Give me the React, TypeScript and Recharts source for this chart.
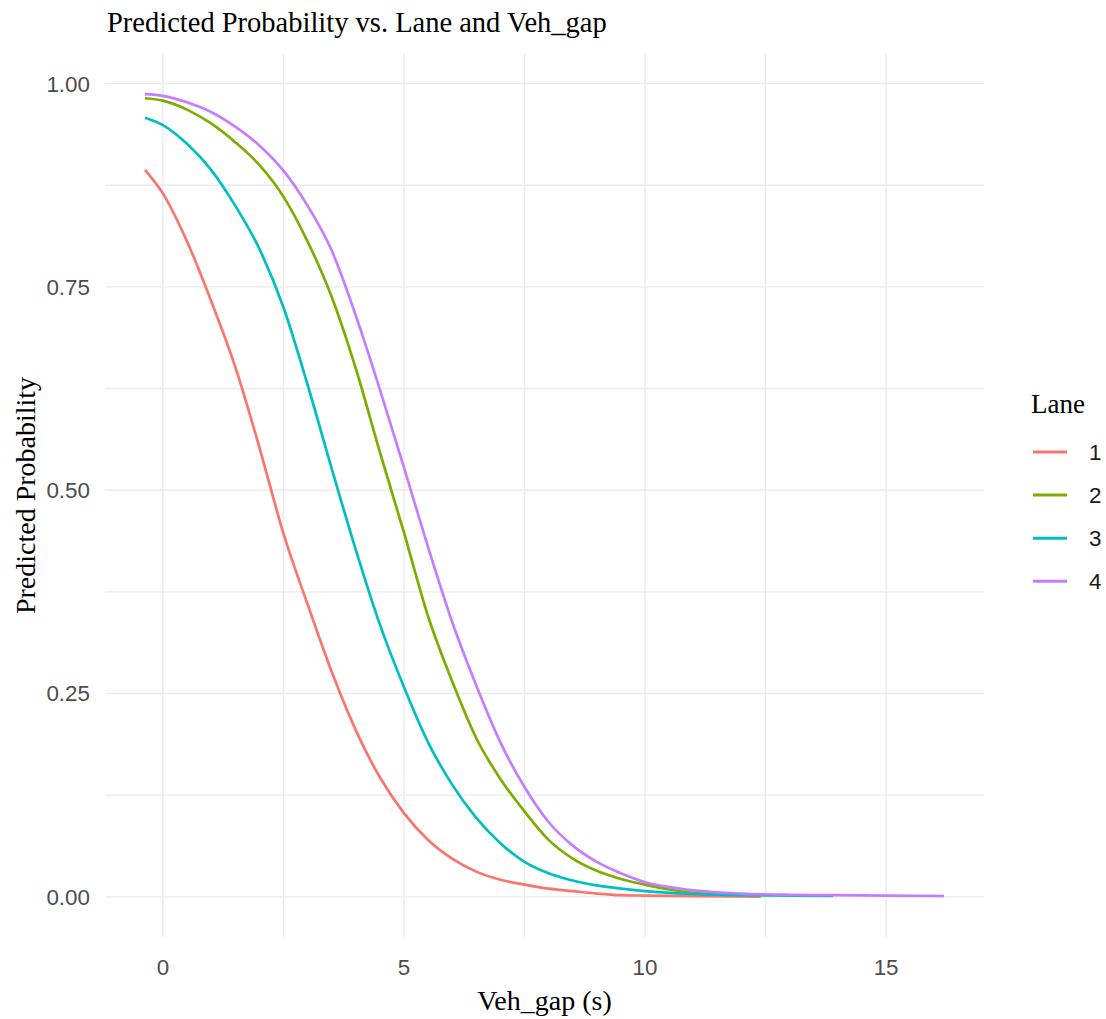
import { LineChart, Line, XAxis, YAxis, CartesianGrid, Legend } from 'recharts'

// Veh_gap (s) values and predicted probabilities
const LANE1_X = [-0.37, 0, 0.5, 1, 1.5, 2, 2.5, 3, 3.5, 4, 4.5, 5, 5.5, 6, 6.5, 7, 7.5, 8, 8.5, 9, 9.5, 10, 11, 12, 12.4]
const LANE1_P = [0.894, 0.865, 0.806, 0.733, 0.652, 0.553, 0.447, 0.36, 0.277, 0.205, 0.147, 0.103, 0.07, 0.047, 0.031, 0.021, 0.015, 0.01, 0.007, 0.004, 0.002, 0.0015, 0.0008, 0.0004, 0.0003]

const LANE2_X = [-0.37, 0, 0.5, 1, 1.5, 2, 2.5, 3, 3.5, 4, 4.5, 5, 5.5, 6, 6.5, 7, 7.5, 8, 8.5, 9, 9.5, 10, 10.5, 11, 11.5, 12]
const LANE2_P = [0.982, 0.979, 0.968, 0.951, 0.928, 0.9, 0.861, 0.806, 0.738, 0.65, 0.547, 0.448, 0.345, 0.265, 0.195, 0.145, 0.105, 0.07, 0.047, 0.032, 0.022, 0.015, 0.009, 0.005, 0.003, 0.002]

const LANE3_X = [-0.37, 0, 0.5, 1, 1.5, 2, 2.5, 3, 3.5, 4, 4.5, 5, 5.5, 6, 6.5, 7, 7.5, 8, 8.5, 9, 9.5, 10, 11, 12, 13, 13.9]
const LANE3_P = [0.958, 0.949, 0.926, 0.894, 0.85, 0.797, 0.725, 0.63, 0.527, 0.427, 0.335, 0.258, 0.19, 0.138, 0.097, 0.066, 0.043, 0.029, 0.02, 0.014, 0.01, 0.007, 0.0035, 0.002, 0.0015, 0.001]

const LANE4_X = [-0.37, 0, 0.5, 1, 1.5, 2, 2.5, 3, 3.5, 4, 4.5, 5, 5.5, 6, 6.5, 7, 7.5, 8, 8.5, 9, 9.5, 10, 10.5, 11, 12, 13, 14, 15, 16.2]
const LANE4_P = [0.987, 0.985, 0.977, 0.965, 0.947, 0.924, 0.893, 0.85, 0.795, 0.715, 0.624, 0.528, 0.43, 0.338, 0.26, 0.19, 0.135, 0.092, 0.063, 0.043, 0.029, 0.018, 0.012, 0.008, 0.004, 0.0025, 0.002, 0.0015, 0.001]

const LANES = ['1', '2', '3', '4']
const X_TICKS = [0, 2.5, 5, 7.5, 10, 12.5, 15]
const Y_TICKS = [0, 0.125, 0.25, 0.375, 0.5, 0.625, 0.75, 0.875, 1]

const COLORS = ['#F8766D', '#7CAE00', '#00BFC4', '#C77CFF']
const SERIF = '"Liberation Serif", "Times New Roman", serif'
const SANS = '"Liberation Sans", Arial, sans-serif'

const zip = (xs: number[], ps: number[]) => xs.map((x, i) => ({ x, p: ps[i] }))

const series = [
  zip(LANE1_X, LANE1_P),
  zip(LANE2_X, LANE2_P),
  zip(LANE3_X, LANE3_P),
  zip(LANE4_X, LANE4_P),
]

function LaneLegend() {
  return (
    <svg width={81} height={210} style={{ display: 'block', overflow: 'visible' }}>
      <text x={6} y={28} fontFamily={SERIF} fontSize={27} fill="#000">Lane</text>
      {LANES.map((lane, i) => {
        const y = 67 + i * 43.1
        return (
          <g key={lane}>
            <line x1={8} x2={42} y1={y} y2={y} stroke={COLORS[i]} strokeWidth={3} />
            <text x={64} y={y + 8} fontFamily={SANS} fontSize={22.4} fill="#1a1a1a">{lane}</text>
          </g>
        )
      })}
    </svg>
  )
}

export default function App() {
  return (
    <div style={{ position: 'absolute', left: 0, top: 0, width: 1106, height: 1019, background: '#fff' }}>
      <div style={{
        position: 'absolute', left: 107, top: 9, fontFamily: SERIF, fontSize: 28.5,
        lineHeight: '28px', color: '#000', whiteSpace: 'nowrap',
      }}>
        Predicted Probability vs. Lane and Veh_gap
      </div>
      <LineChart width={1106} height={1019} margin={{ top: 54, right: 122, bottom: 0, left: 0 }}>
        <CartesianGrid stroke="#EBEBEB" strokeWidth={1.4} syncWithTicks />
        <XAxis
          type="number" dataKey="x" domain={[-1.2, 17.03]} ticks={X_TICKS}
          tickFormatter={v => (v % 5 === 0 ? String(v) : '')}
          axisLine={false} tickLine={false} tickSize={0} tickMargin={22} height={82}
          tick={{ fontFamily: SANS, fontSize: 22.4, fill: '#4D4D4D' }}
          label={{ value: 'Veh_gap (s)', position: 'insideBottom', offset: 9, style: { fontFamily: SERIF, fontSize: 28, fill: '#000' } }}
          allowDataOverflow
        />
        <YAxis
          type="number" domain={[-0.0494, 1.0364]} ticks={Y_TICKS}
          tickFormatter={v => (Math.abs((v * 4) % 1) < 1e-9 ? v.toFixed(2) : '')}
          axisLine={false} tickLine={false} tickSize={0} tickMargin={15} width={105}
          tick={{ fontFamily: SANS, fontSize: 22.4, fill: '#4D4D4D' }}
          label={{ value: 'Predicted Probability', angle: -90, position: 'insideLeft', offset: 25, style: { fontFamily: SERIF, fontSize: 28, fill: '#000', textAnchor: 'middle' } }}
          allowDataOverflow
        />
        {series.map((data, i) => (
          <Line
            key={LANES[i]} name={LANES[i]} data={data} dataKey="p" type="monotone"
            stroke={COLORS[i]} strokeWidth={2.7} dot={false} activeDot={false}
            isAnimationActive={false}
          />
        ))}
        <Legend
          layout="horizontal" align="center" verticalAlign="middle"
          wrapperStyle={{ left: 1025, top: 385, width: 81 }}
          content={() => <LaneLegend />}
        />
      </LineChart>
    </div>
  )
}
